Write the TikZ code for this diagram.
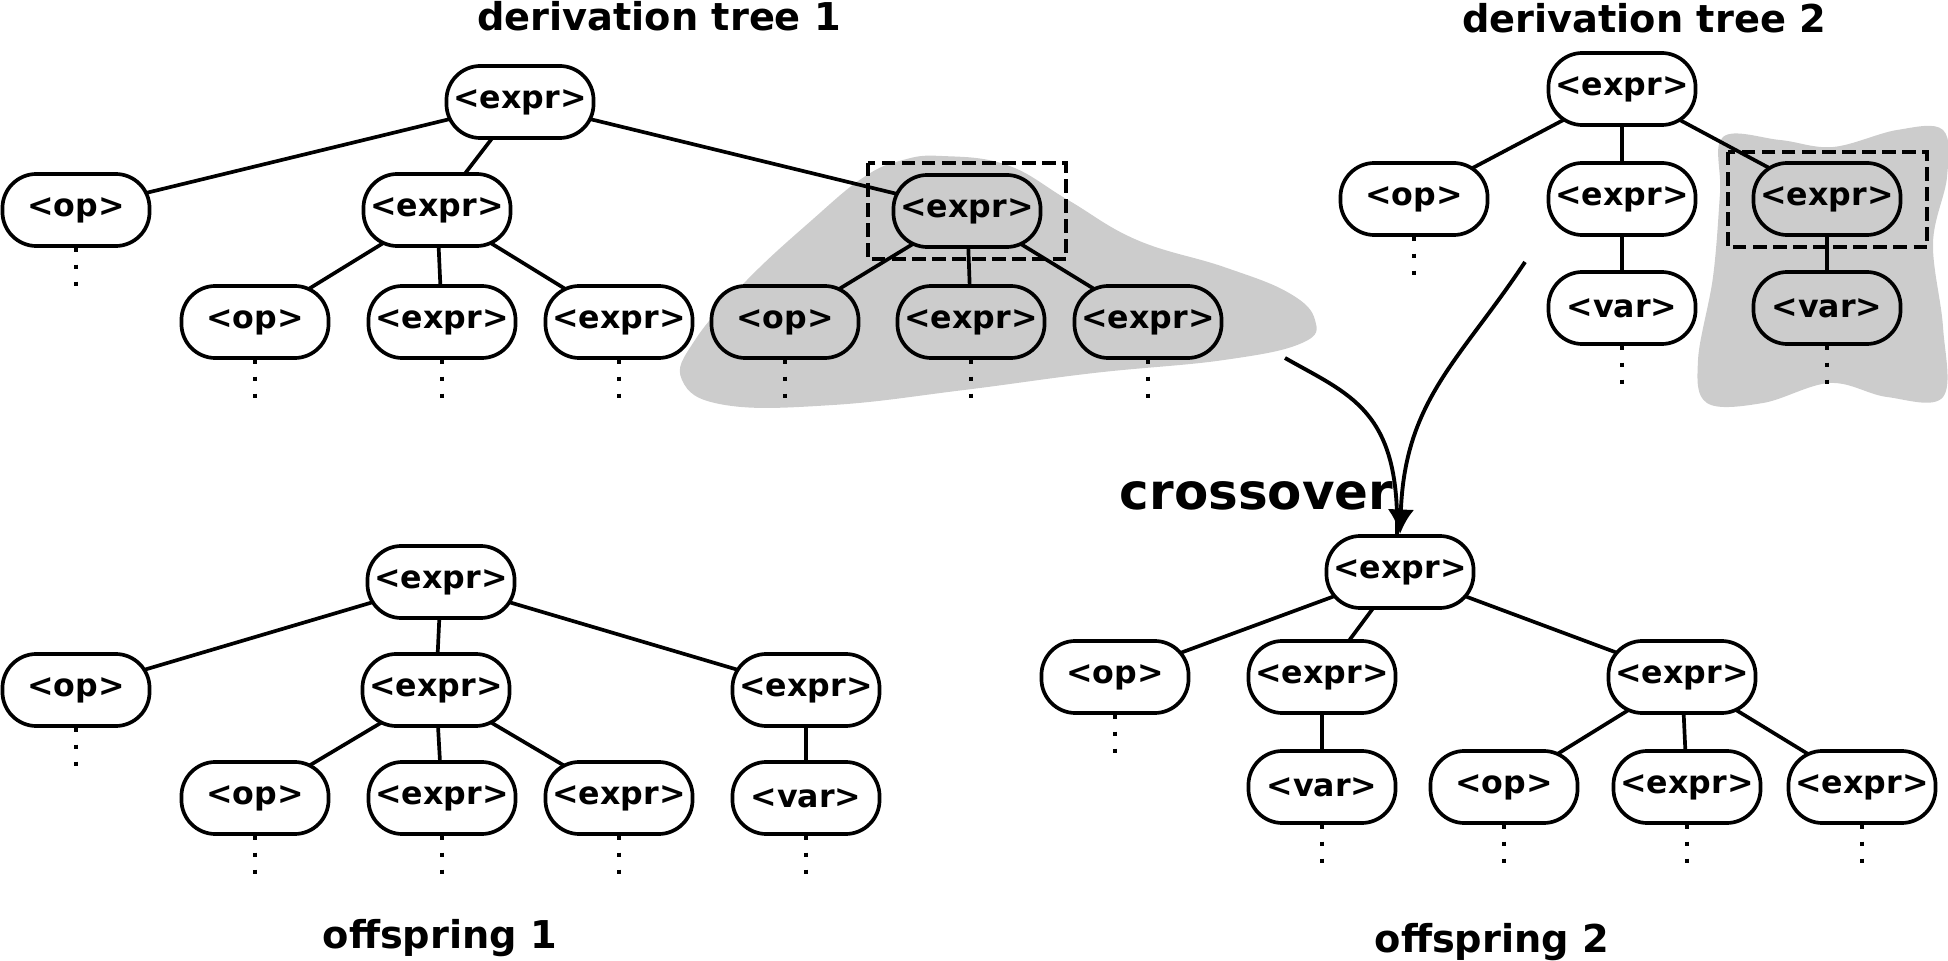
\documentclass[tikz,border=0pt]{standalone}
\usepackage{fontspec}
\setmainfont{DejaVu Sans}
\usetikzlibrary{arrows.meta,backgrounds}

\newcommand{\nterm}[1]{\textless#1\textgreater}

\tikzset{
	sym/.style={draw, line width=1.05pt, fill=white, rounded corners=0.34cm,
		minimum width=1.47cm, minimum height=0.72cm, inner sep=0pt,
		font=\fontsize{9}{11}\selectfont\bfseries},
	hl/.style={sym, fill=gray!40},
	branch/.style={line width=1.05pt},
	vdots/.style={line width=1.3pt, dash pattern=on 1.3pt off 3.5pt},
	subbox/.style={line width=1.1pt, dash pattern=on 3.8pt off 1.9pt},
	blob/.style={fill=gray!40},
	flow/.style={line width=1.1pt},
	title/.style={font=\fontsize{10.9}{13}\selectfont\bfseries, inner sep=0pt, anchor=base}
}

\begin{document}
\begin{tikzpicture}[x=0.01cm,y=-0.01cm]
	\useasboundingbox (0,0) rectangle (1948,961);

	% swapped subtrees
	\begin{pgfonlayer}{background}
	\fill[blob] plot[smooth cycle, tension=0.7] coordinates {(942,156) (1007,165) (1068,200) (1137,240) (1224,267) (1289,293) (1315,320) (1302,343) (1224,360) (1094,373) (964,390) (833,405) (725,405) (682,380) (695,340) (747,280) (812,220) (864,177) (903,160)};
	\fill[blob] plot[smooth cycle, tension=0.6] coordinates {(1723,137) (1780,140) (1833,147) (1897,130) (1943,130) (1947,177) (1933,243) (1943,327) (1943,397) (1887,397) (1830,383) (1763,403) (1707,403) (1698,360) (1713,277) (1720,193)};
	\end{pgfonlayer}

	% derivation tree 1
	\node[title] (title1) at (659,31) {derivation tree 1};
	\node[sym] (t1) at (520,102) {\nterm{expr}};
	\node[sym] (t1op) at (76,210) {\nterm{op}};
	\node[sym] (t1ex) at (437,210) {\nterm{expr}};
	\node[hl] (t1sub) at (967,211) {\nterm{expr}};
	\node[sym] (t1a) at (255,322) {\nterm{op}};
	\node[sym] (t1b) at (442,322) {\nterm{expr}};
	\node[sym] (t1c) at (619,322) {\nterm{expr}};
	\node[hl] (t1d) at (785,322) {\nterm{op}};
	\node[hl] (t1e) at (971,322) {\nterm{expr}};
	\node[hl] (t1f) at (1148,322) {\nterm{expr}};

	\begin{pgfonlayer}{background}
	\draw[branch] (t1.center) -- (t1op.center);
	\draw[branch] (t1.center) -- (t1ex.center);
	\draw[branch] (t1.center) -- (t1sub.center);
	\draw[branch] (t1ex.center) -- (t1a.center);
	\draw[branch] (t1ex.center) -- (t1b.center);
	\draw[branch] (t1ex.center) -- (t1c.center);
	\draw[branch] (t1sub.center) -- (t1d.center);
	\draw[branch] (t1sub.center) -- (t1e.center);
	\draw[branch] (t1sub.center) -- (t1f.center);
	\end{pgfonlayer}
	\draw[subbox] ([shift={(-24,-10)}]t1sub.north west) rectangle ([shift={(24,10)}]t1sub.south east);

	\draw[vdots] (t1op.south) -- ++(0,40);
	\draw[vdots] (t1a.south) -- ++(0,40);
	\draw[vdots] (t1b.south) -- ++(0,40);
	\draw[vdots] (t1c.south) -- ++(0,40);
	\draw[vdots] (t1d.south) -- ++(0,40);
	\draw[vdots] (t1e.south) -- ++(0,40);
	\draw[vdots] (t1f.south) -- ++(0,40);

	% derivation tree 2
	\node[title] (title2) at (1644,33) {derivation tree 2};
	\node[sym] (t2) at (1622,89) {\nterm{expr}};
	\node[sym] (t2op) at (1414,199) {\nterm{op}};
	\node[sym] (t2ex) at (1622,199) {\nterm{expr}};
	\node[hl] (t2sub) at (1827,199) {\nterm{expr}};
	\node[sym] (t2var) at (1622,308) {\nterm{var}};
	\node[hl] (t2subvar) at (1827,308) {\nterm{var}};

	\begin{pgfonlayer}{background}
	\draw[branch] (t2.center) -- (t2op.center);
	\draw[branch] (t2.center) -- (t2ex.center);
	\draw[branch] (t2.center) -- (t2sub.center);
	\draw[branch] (t2ex.center) -- (t2var.center);
	\draw[branch] (t2sub.center) -- (t2subvar.center);
	\end{pgfonlayer}
	\draw[subbox] ([shift={(-24,-9)}]t2sub.north west) rectangle ([shift={(25,10)}]t2sub.south east);

	\draw[vdots] (t2op.south) -- ++(0,40);
	\draw[vdots] (t2var.south) -- ++(0,40);
	\draw[vdots] (t2subvar.south) -- ++(0,40);

	% offspring 1
	\node[title] (title3) at (440,948) {offspring 1};
	\node[sym] (o1) at (441,582) {\nterm{expr}};
	\node[sym] (o1op) at (76,690) {\nterm{op}};
	\node[sym] (o1ex) at (436,690) {\nterm{expr}};
	\node[sym] (o1sub) at (806,690) {\nterm{expr}};
	\node[sym] (o1a) at (255,798) {\nterm{op}};
	\node[sym] (o1b) at (442,798) {\nterm{expr}};
	\node[sym] (o1c) at (619,798) {\nterm{expr}};
	\node[sym] (o1var) at (806,798) {\nterm{var}};

	\begin{pgfonlayer}{background}
	\draw[branch] (o1.center) -- (o1op.center);
	\draw[branch] (o1.center) -- (o1ex.center);
	\draw[branch] (o1.center) -- (o1sub.center);
	\draw[branch] (o1ex.center) -- (o1a.center);
	\draw[branch] (o1ex.center) -- (o1b.center);
	\draw[branch] (o1ex.center) -- (o1c.center);
	\draw[branch] (o1sub.center) -- (o1var.center);
	\end{pgfonlayer}

	\draw[vdots] (o1op.south) -- ++(0,40);
	\draw[vdots] (o1a.south) -- ++(0,40);
	\draw[vdots] (o1b.south) -- ++(0,40);
	\draw[vdots] (o1c.south) -- ++(0,40);
	\draw[vdots] (o1var.south) -- ++(0,40);

	% offspring 2
	\node[title] (title4) at (1492,952) {offspring 2};
	\node[sym] (o2) at (1400,572) {\nterm{expr}};
	\node[sym] (o2op) at (1115,677) {\nterm{op}};
	\node[sym] (o2ex) at (1322,677) {\nterm{expr}};
	\node[sym] (o2sub) at (1682,677) {\nterm{expr}};
	\node[sym] (o2var) at (1322,787) {\nterm{var}};
	\node[sym] (o2a) at (1504,787) {\nterm{op}};
	\node[sym] (o2b) at (1687,787) {\nterm{expr}};
	\node[sym] (o2c) at (1862,787) {\nterm{expr}};

	\begin{pgfonlayer}{background}
	\draw[branch] (o2.center) -- (o2op.center);
	\draw[branch] (o2.center) -- (o2ex.center);
	\draw[branch] (o2.center) -- (o2sub.center);
	\draw[branch] (o2ex.center) -- (o2var.center);
	\draw[branch] (o2sub.center) -- (o2a.center);
	\draw[branch] (o2sub.center) -- (o2b.center);
	\draw[branch] (o2sub.center) -- (o2c.center);
	\end{pgfonlayer}

	\draw[vdots] (o2op.south) -- ++(0,40);
	\draw[vdots] (o2var.south) -- ++(0,40);
	\draw[vdots] (o2a.south) -- ++(0,40);
	\draw[vdots] (o2b.south) -- ++(0,40);
	\draw[vdots] (o2c.south) -- ++(0,40);

	% crossover
	\coordinate (cut1) at (1285,358);
	\coordinate (cut2) at (1525,262);
	\draw[flow] (cut1) .. controls (1350,395) and (1400,410) .. ([xshift=-0.03cm]o2.north);
	\draw[flow, -{Latex[length=7pt,width=7.5pt]}] (cut2) .. controls (1460,360) and (1405,400) .. (o2.north);
	\node[anchor=base east, inner sep=0pt, font=\fontsize{14.2}{17}\selectfont\bfseries] (xo) at (1394,510) {crossover};

\end{tikzpicture}
\end{document}
